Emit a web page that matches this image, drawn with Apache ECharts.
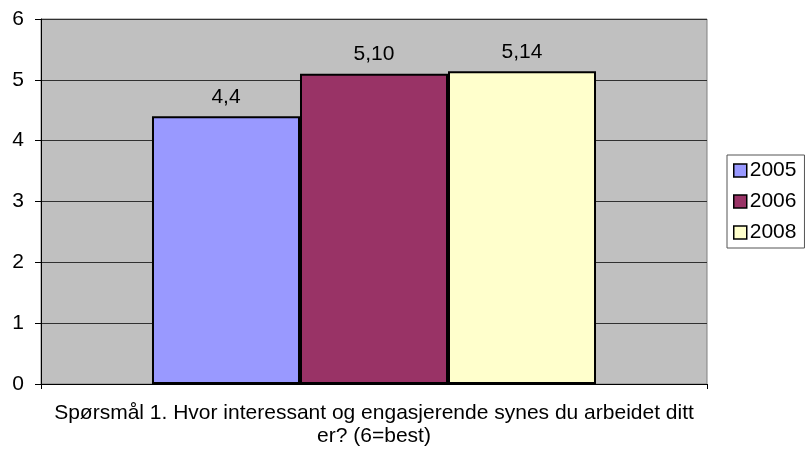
<!DOCTYPE html>
<html><head><meta charset="utf-8">
<script src="https://cdn.jsdelivr.net/npm/echarts@6/dist/echarts.min.js"></script>
<style>html,body{margin:0;padding:0;background:#fff}#c{width:808px;height:454px}</style>
</head><body><div id="c"></div>
<script>
const categories = [''];
const seriesNames = ['2005', '2006', '2008'];
const seriesValues = [4.4, 5.10, 5.14];
const valueLabels = ['4,4', '5,10', '5,14'];
const colors = ['#9999FF', '#993366', '#FFFFCC'];
const yTicks = [0, 1, 2, 3, 4, 5, 6];
const axisTitle = 'Spørsmål 1. Hvor interessant og engasjerende synes du arbeidet ditt\ner? (6=best)';

const font = '"Liberation Sans"';
const chart = echarts.init(document.getElementById('c'));
chart.setOption({
  animation: false,
  textStyle: { fontFamily: font },
  grid: { left: 41, right: 101, top: 19, bottom: 70, show: true, containLabel: false, outerBoundsMode: 'none', backgroundColor: '#C0C0C0', borderColor: '#808080', borderWidth: 1 },
  legend: {
    orient: 'vertical', left: 727, top: 155,
    data: seriesNames,
    icon: 'rect', itemWidth: 13, itemHeight: 13, itemGap: 10,
    padding: [5, 8, 5, 6],
    borderColor: '#555', borderWidth: 1,
    textStyle: { fontSize: 21, color: '#000', fontFamily: font, padding: [0, 0, 0, -2] },
    itemStyle: { borderColor: '#000', borderWidth: 1.5 }
  },
  xAxis: {
    type: 'category', data: categories,
    axisLine: { lineStyle: { color: '#000', width: 1 } },
    axisTick: { show: true, length: 5, lineStyle: { color: '#000' } },
    axisLabel: { show: false },
    name: axisTitle, nameLocation: 'middle', nameGap: 18,
    nameTextStyle: { fontSize: 21, color: '#000', lineHeight: 23, fontFamily: font }
  },
  yAxis: {
    type: 'value', min: 0, max: 6, interval: 1,
    axisLine: { show: true, lineStyle: { color: '#000', width: 1 } },
    axisTick: { show: true, length: 6, lineStyle: { color: '#000' } },
    axisLabel: { fontSize: 21, color: '#000', margin: 17, fontFamily: font, formatter: v => yTicks.includes(v) ? String(v) : '' },
    splitLine: { show: true, lineStyle: { color: '#303030', width: 1 } }
  },
  series: seriesNames.map((n, i) => ({
    name: n, type: 'bar',
    data: [seriesValues[i]],
    barGap: '0%', barCategoryGap: '33.33%',
    itemStyle: { color: colors[i], borderColor: '#000', borderWidth: 2 },
    label: { show: true, position: 'top', distance: 9, fontSize: 21, color: '#000', fontFamily: font, formatter: () => valueLabels[i] }
  }))
});
</script></body></html>
